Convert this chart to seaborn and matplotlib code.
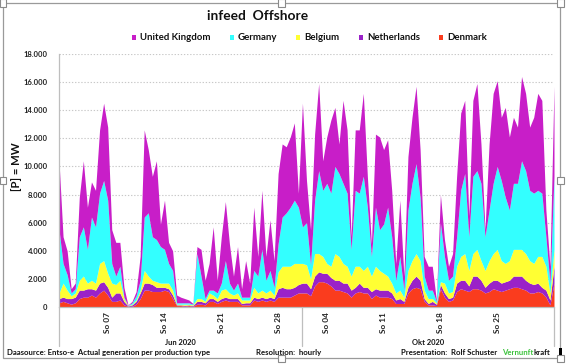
import numpy as np
import pandas as pd
import matplotlib
matplotlib.use("Agg")
import matplotlib.pyplot as plt
import matplotlib.transforms as mtransforms
from matplotlib.patches import Rectangle
from matplotlib.lines import Line2D
import seaborn as sns

# ---------------- data (values in 1000 MW, 12-hourly) ----------------
june_times = pd.date_range("2020-06-01 00:00", "2020-06-30 12:00", freq="12h")   # 60 samples
oct_times = pd.date_range("2020-10-01 00:00", "2020-11-01 00:00", freq="12h")    # 63 samples

denmark_jun = [0.3, 0.4, 0.3, 0.2, 0.3, 0.6, 0.7, 0.7, 0.85, 0.7,
               1.0, 1.2, 0.85, 0.4, 0.4, 0.5, 0.15, 0.05, 0.05, 0.2,
               0.6, 1.2, 1.2, 1.1, 1.1, 1.1, 1.2, 1.1, 0.6, 0.1,
               0.1, 0.05, 0.1, 0.05, 0.2, 0.2, 0.15, 0.4, 0.4, 0.25,
               0.4, 0.5, 0.4, 0.4, 0.4, 0.15, 0.15, 0.15, 0.5, 0.4,
               0.5, 0.4, 0.5, 0.4, 0.7, 0.7, 0.7, 0.7, 0.85, 1.0]
denmark_oct = [1.0, 1.0, 0.8, 1.5, 1.8, 1.8, 1.7, 1.5, 1.2, 1.2,
               1.1, 1.0, 0.7, 1.0, 1.1, 1.0, 1.0, 0.6, 0.85, 0.7,
               0.7, 0.7, 0.6, 0.25, 0.25, 0.25, 1.0, 1.3, 1.4, 1.3,
               0.4, 0.15, 0.15, 0.1, 1.3, 0.7, 0.4, 0.5, 1.1, 1.3,
               1.2, 1.1, 1.3, 1.3, 1.2, 1.0, 1.1, 1.3, 1.2, 1.1,
               1.2, 1.3, 1.4, 1.4, 1.3, 1.2, 1.0, 1.0, 1.1, 1.0,
               0.7, 0.15, 1.7]

netherlands_jun = [0.3, 0.3, 0.3, 0.4, 0.4, 0.6, 0.5, 0.6, 0.45, 0.5,
                   0.7, 0.6, 0.55, 0.3, 0.6, 0.5, 0.25, 0.03, 0.1, 0.2,
                   0.4, 0.5, 0.5, 0.5, 0.3, 0.3, 0.2, 0.2, 0.25, 0.05,
                   0.05, 0.07, 0.05, 0.05, 0.2, 0.2, 0.15, 0.2, 0.2, 0.15,
                   0.2, 0.2, 0.2, 0.2, 0.2, 0.1, 0.15, 0.15, 0.2, 0.2,
                   0.2, 0.2, 0.2, 0.2, 0.6, 0.7, 0.6, 0.6, 0.55, 0.6]
netherlands_oct = [0.7, 0.7, 0.5, 0.7, 0.7, 0.6, 0.7, 0.6, 0.7, 0.7,
                   0.6, 0.7, 0.5, 0.4, 0.6, 0.4, 0.4, 0.5, 0.45, 0.5,
                   0.5, 0.5, 0.4, 0.25, 0.35, 0.15, 0.4, 0.6, 0.8, 0.6,
                   0.2, 0.1, 0.25, 0.1, 0.3, 0.3, 0.2, 0.2, 0.6, 0.6,
                   0.7, 0.4, 0.9, 0.9, 0.7, 0.4, 0.6, 0.6, 0.7, 0.6,
                   0.6, 0.6, 0.8, 0.8, 0.9, 0.7, 0.7, 0.6, 0.6, 0.4,
                   0.5, 0.35, 1.2]

belgium_jun = [0.4, 1.0, 0.6, 0.2, 0.3, 0.7, 1.0, 0.4, 0.6, 0.5,
               1.4, 1.5, 1.0, 1.0, 0.6, 0.9, 0.2, 0.02, 0.05, 0.1,
               0.2, 0.9, 0.5, 0.3, 0.4, 0.3, 0.3, 0.4, 0.35, 0.05,
               0.05, 0.08, 0.05, 0.05, 0.2, 0.2, 0.1, 0.4, 0.25, 0.2,
               0.6, 0.6, 0.4, 0.25, 0.4, 0.25, 0.2, 0.2, 0.7, 0.4,
               0.5, 0.4, 0.5, 0.25, 1.2, 1.5, 1.6, 1.6, 1.7, 1.5]
belgium_oct = [1.4, 1.3, 0.7, 1.6, 1.3, 1.2, 0.7, 0.8, 1.9, 1.7,
               1.4, 1.2, 1.0, 1.5, 1.2, 1.2, 1.5, 1.1, 1.6, 1.4,
               1.2, 1.0, 0.7, 0.5, 0.6, 0.3, 1.2, 1.4, 1.6, 1.4,
               0.6, 0.35, 0.2, 0.1, 0.2, 0.7, 0.4, 0.4, 1.2, 1.7,
               1.9, 1.1, 1.6, 1.9, 1.4, 1.2, 1.6, 1.9, 2.2, 1.6,
               1.3, 1.4, 1.9, 1.9, 1.9, 1.9, 1.6, 1.5, 1.9, 2.2,
               1.7, 0.5, 1.2]

germany_jun = [4.5, 1.4, 1.1, 0.2, 0.3, 3.1, 3.5, 2.4, 4.5, 4.0,
               5.0, 5.7, 5.2, 1.4, 0.6, 1.0, 0.1, 0.02, 0.1, 0.3,
               0.7, 3.8, 4.5, 3.1, 3.0, 2.6, 2.4, 1.4, 1.4, 0.1,
               0.1, 0.1, 0.1, 0.05, 3.2, 1.6, 0.2, 0.2, 0.35, 0.4,
               0.5, 2.0, 0.7, 0.35, 0.7, 0.2, 0.2, 0.2, 1.2, 1.2,
               2.9, 0.9, 1.4, 0.55, 2.0, 3.5, 3.8, 4.2, 4.5, 4.0]
germany_oct = [2.6, 3.0, 1.0, 3.8, 5.9, 4.7, 5.7, 5.2, 6.2, 5.9,
               5.7, 5.2, 1.9, 5.4, 5.2, 6.7, 4.2, 1.4, 4.2, 2.9,
               3.5, 4.9, 3.3, 0.9, 2.4, 0.5, 4.3, 5.5, 6.4, 4.5,
               1.0, 0.6, 0.6, 0.1, 4.2, 1.9, 0.9, 1.1, 2.1, 4.7,
               5.7, 2.4, 5.5, 5.6, 5.5, 2.4, 3.6, 5.0, 5.9, 5.7,
               4.7, 3.6, 4.7, 4.7, 6.3, 5.9, 5.0, 5.0, 4.7, 4.5,
               2.1, 0.7, 5.2]

uk_jun = [4.9, 1.9, 1.7, 0.3, 0.4, 2.8, 4.7, 3.0, 2.5, 2.6,
          4.5, 5.5, 5.2, 2.4, 2.4, 1.7, 0.7, 0.03, 0.1, 0.3,
          1.7, 6.2, 4.5, 4.3, 5.6, 1.6, 3.5, 1.5, 1.4, 0.55,
          0.4, 0.3, 0.2, 0.05, 0.5, 1.9, 1.3, 1.9, 4.5, 0.9,
          3.3, 4.2, 2.8, 1.0, 2.6, 0.6, 2.6, 1.0, 4.5, 1.4,
          4.2, 1.7, 3.6, 1.9, 5.0, 5.2, 4.7, 5.0, 5.5, 1.0]
uk_oct = [8.8, 3.0, 2.5, 4.7, 6.2, 2.1, 3.3, 5.2, 4.2, 2.1,
          5.9, 4.5, 0.9, 4.3, 4.5, 5.9, 2.2, 0.9, 5.2, 6.6,
          5.3, 4.8, 3.3, 1.2, 4.0, 1.0, 3.8, 4.7, 5.5, 3.4,
          1.4, 1.7, 1.7, 0.1, 2.0, 1.2, 1.0, 1.6, 4.3, 5.5,
          5.2, 1.5, 5.4, 6.2, 2.8, 0.5, 4.7, 6.4, 6.1, 4.5,
          6.4, 5.2, 4.7, 4.0, 6.0, 5.5, 4.5, 5.4, 6.9, 6.6,
          1.9, 1.2, 6.4]

stack_order = ["Denmark", "Netherlands", "Belgium", "Germany", "United Kingdom"]
legend_order = ["United Kingdom", "Germany", "Belgium", "Netherlands", "Denmark"]
series_colors = {"United Kingdom": "#C81EC8", "Germany": "#33FFFF", "Belgium": "#FFFF33",
                 "Netherlands": "#9A22C8", "Denmark": "#FA3C1E"}
sunday_dates = ["2020-06-07", "2020-06-14", "2020-06-21", "2020-06-28",
                "2020-10-04", "2020-10-11", "2020-10-18", "2020-10-25"]
sunday_labels = ["So 07", "So 14", "So 21", "So 28", "So 04", "So 11", "So 18", "So 25"]
month_labels = ["Jun 2020", "Okt 2020"]
y_ticks = list(range(0, 18001, 2000))

# ---------------- build table ----------------
def axis_pos(ts):
    ts = pd.Timestamp(ts)
    if ts.month == 6:
        return (ts - pd.Timestamp("2020-06-01")) / pd.Timedelta(hours=1)
    return 720 + (ts - pd.Timestamp("2020-10-01")) / pd.Timedelta(hours=1)

times = list(june_times) + list(oct_times)
df = pd.DataFrame({
    "time": times,
    "Denmark": np.array(denmark_jun + denmark_oct) * 1000,
    "Netherlands": np.array(netherlands_jun + netherlands_oct) * 1000,
    "Belgium": np.array(belgium_jun + belgium_oct) * 1000,
    "Germany": np.array(germany_jun + germany_oct) * 1000,
    "United Kingdom": np.array(uk_jun + uk_oct) * 1000,
})
df["pos"] = [axis_pos(t) for t in df["time"]]
total_hours = 720 + 744

# ---------------- style ----------------
sns.set_theme(style="white")
plt.rcParams["font.family"] = ["Lato", "DejaVu Sans"]
W, H = 568, 364
fig = plt.figure(figsize=(W / 100, H / 100), dpi=100)
fig.patch.set_facecolor("white")

def fx(x):
    return x / W

def fy(y):
    return 1 - y / H

L, R, T, B = 59, 554, 54, 307
ax = fig.add_axes([fx(L), fy(B), (R - L) / W, (B - T) / H])
ax.set_facecolor("white")

ax.stackplot(df["pos"], *[df[c] for c in stack_order],
             colors=[series_colors[c] for c in stack_order], linewidth=0, zorder=2)

ax.set_xlim(0, total_hours)
ax.set_ylim(0, 18000)
ax.set_axisbelow(True)
ax.yaxis.grid(True, linestyle=(0, (1.2, 1.6)), color="#C8C8C8", linewidth=0.8, zorder=0)
ax.xaxis.grid(False)
sns.despine(ax=ax, top=True, right=True)
for s in ["left", "bottom"]:
    ax.spines[s].set_color("#BEBEBE")
    ax.spines[s].set_linewidth(0.9)
    ax.spines[s].set_zorder(3)

fig.canvas.draw()
renderer = fig.canvas.get_renderer()

def fit_size(s, width_px, **kw):
    t = fig.text(0, 0, s, fontsize=10, **kw)
    w = t.get_window_extent(renderer).width
    t.remove()
    return 10 * width_px / w

# y ticks
ax.set_yticks(y_ticks)
ytl = [f"{v:,}".replace(",", ".") for v in y_ticks]
ysz = fit_size("18.000", 24, fontweight="bold")
ax.set_yticklabels(ytl, fontsize=ysz, fontweight="bold", color="#222222")
ax.tick_params(axis="y", length=2.5, width=0.8, color="#BEBEBE", pad=6)
ax.set_xticks([])

# y label
ylsz = fit_size("[P] = MW", 49, fontweight="bold")
fig.text(fx(16), fy(167), "[P] = MW", rotation=90, fontsize=ylsz, fontweight="bold",
         ha="center", va="center", color="#111111")

# x labels (rotated Sundays)
blend = mtransforms.blended_transform_factory(ax.transData, fig.transFigure)
xsz = fit_size("So 07", 21, fontweight="bold")
for d, lab in zip(sunday_dates, sunday_labels):
    ax.text(axis_pos(d + " 00:00"), fy(312), lab, transform=blend, rotation=90,
            ha="center", va="top", fontsize=xsz, fontweight="bold", color="#222222", clip_on=False)

# month labels and separators
msz = fit_size("Jun 2020", 31, fontweight="bold")
ax.text(360, fy(342.5), month_labels[0], transform=blend, ha="center", va="center",
        fontsize=msz, fontweight="bold", color="#111111", clip_on=False)
ax.text(720 + 372, fy(342.5), month_labels[1], transform=blend, ha="center", va="center",
        fontsize=msz, fontweight="bold", color="#111111", clip_on=False)
for xp in [0, 720, total_hours]:
    fig.add_artist(Line2D([fx(L + (R - L) * xp / total_hours)] * 2, [fy(B), fy(346)],
                          color="#BEBEBE", linewidth=0.9))

# title
tsz = fit_size("infeed  Offshore", 101, fontweight="bold")
fig.text(fx(258), fy(15.5), "infeed  Offshore", ha="center", va="center",
         fontsize=tsz, fontweight="bold", color="#111111")

# legend
leg_items = [("United Kingdom", 131.8, 140.2, 210.5), ("Germany", 229.8, 237.4, 276.7),
             ("Belgium", 295.7, 304.0, 339.7), ("Netherlands", 358.7, 367.0, 421.3),
             ("Denmark", 438.8, 447.2, 487.2)]
lsz = fit_size("United Kingdom", 70.3, fontweight="bold")
ly = 37.5
for name, sx, tx0, tx1 in leg_items:
    fig.add_artist(Rectangle((fx(sx), fy(ly + 2.3)), 4.6 / W, 4.6 / H,
                             facecolor=series_colors[name], edgecolor="none",
                             transform=fig.transFigure))
    fig.text(fx(tx0), fy(ly), name, ha="left", va="center", fontsize=lsz,
             fontweight="bold", color="#111111")

# footer
fsz = fit_size("Daasource: Entso-e  Actual generation per production type", 203, fontweight="bold")
fy_foot = fy(352.5)
fig.text(fx(7), fy_foot, "Daasource: Entso-e  Actual generation per production type",
         ha="left", va="center", fontsize=fsz, fontweight="bold", color="#111111")
fig.text(fx(256), fy_foot, "Resolution:  hourly", ha="left", va="center",
         fontsize=fsz, fontweight="bold", color="#111111")
fig.text(fx(400.7), fy_foot, "Presentation:  Rolf Schuster", ha="left", va="center",
         fontsize=fsz, fontweight="bold", color="#111111")
tv = fig.text(fx(502), fy_foot, "Vernunft", ha="left", va="center",
              fontsize=fsz, fontweight="bold", color="#3CC23C")
fig.canvas.draw()
vb = tv.get_window_extent(renderer)
fig.text(vb.x1 / fig.bbox.width, fy_foot, "kraft", ha="left", va="center",
         fontsize=fsz, fontweight="bold", color="#111111")

# outer frame with selection handles
fig.add_artist(Rectangle((fx(3), fy(358)), (560 - 3) / W, (358 - 3) / H, fill=False,
                         edgecolor="#9A9A9A", linewidth=0.9, transform=fig.transFigure))
for hx, hy in [(3, 3), (281.5, 3), (560, 3), (3, 180.5), (560, 180.5), (281.5, 358), (560, 358)]:
    fig.add_artist(Rectangle((fx(hx - 3.5), fy(hy + 3.5)), 7 / W, 7 / H, facecolor="white",
                             edgecolor="#8A8A8A", linewidth=0.8, transform=fig.transFigure))
fig.add_artist(Rectangle((fx(558.5), fy(355)), 3 / W, 7 / H, facecolor="black",
                         edgecolor="none", transform=fig.transFigure))

fig.savefig("out.png", dpi=100, facecolor="white")
